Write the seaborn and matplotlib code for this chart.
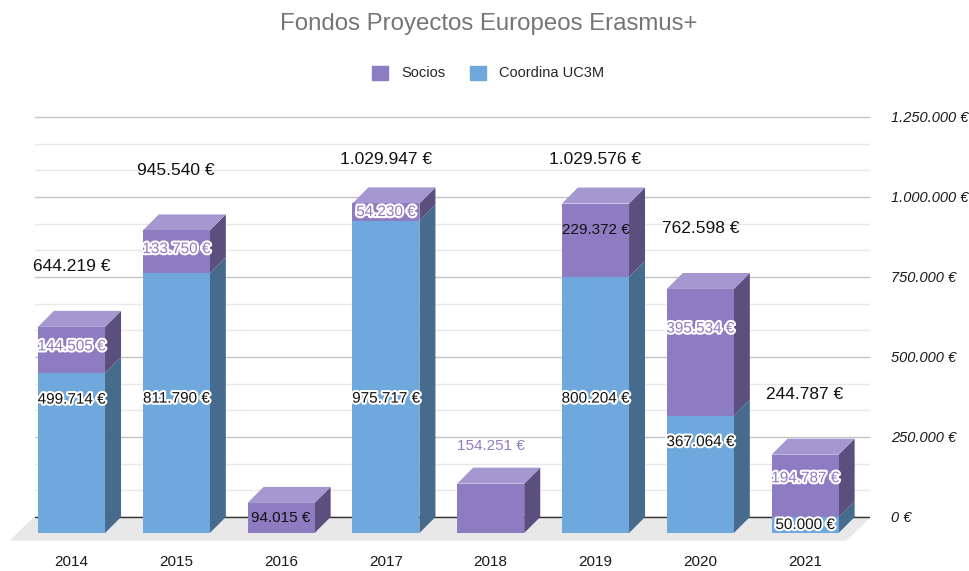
import matplotlib
matplotlib.use('Agg')
import matplotlib.pyplot as plt
import matplotlib.patheffects as pe
from matplotlib.patches import Patch, Polygon
import pandas as pd
import seaborn as sns

years = ['2014', '2015', '2016', '2017', '2018', '2019', '2020', '2021']
coordina = [499714, 811790, 0, 975717, 0, 800204, 367064, 50000]
socios = [144505, 133750, 94015, 54230, 154251, 229372, 395534, 194787]
y_ticks = [0, 250000, 500000, 750000, 1000000, 1250000]
# socios labels drawn plain black (no halo) in the original
plain_socios_labels = ['2019']


def eur(v):
    return f'{v:,.0f} €'.replace(',', '.')


df = pd.DataFrame({'year': years, 'coordina': coordina, 'socios': socios})
df['total'] = df['coordina'] + df['socios']

sns.set_theme(style='white')
plt.rcParams['font.family'] = ['Liberation Sans', 'DejaVu Sans']

purple, purple_top, purple_side = '#8e7cc3', '#a597cf', '#5b4f7e'
blue, blue_side = '#6fa8dc', '#466b8c'

W, H = 969, 571
fig = plt.figure(figsize=(W / 100, H / 100), dpi=100, facecolor='white')
# plot area in pixels: x 35..870, y 100..540 (front bar bottom at 533)
ax = fig.add_axes([35 / W, 1 - 540 / H, (870 - 35) / W, (540 - 100) / H])

px_per_cat = 104.8
eur_per_px = 3125
dx = 16 / px_per_cat          # 3d depth, category units
dy = 16 * eur_per_px          # 3d depth, euro units

sns.barplot(data=df, x='year', y='total', color=purple, saturation=1,
            width=0.64, linewidth=0, ax=ax, zorder=3)
sns.barplot(data=df, x='year', y='coordina', color=blue, saturation=1,
            width=0.64, linewidth=0, ax=ax, zorder=3)

xl, xr = (35 - 71.5) / px_per_cat, (870 - 71.5) / px_per_cat
ylo, yhi = -(540 - 533) * eur_per_px, (533 - 100) * eur_per_px
ax.set_xlim(xl, xr)
ax.set_ylim(ylo, yhi)

# floor and back baseline
fdx = 24 / px_per_cat
ax.add_patch(Polygon([(xl, dy), (xr, dy), (xr - fdx, ylo), (xl - fdx, ylo)],
                     color='#e8e8e8', zorder=1, clip_on=False))
ax.axhline(dy, color='#333333', lw=1, zorder=1.5)

# side and top faces, labels
bars = ax.patches[:len(years)]
halo = [pe.withStroke(linewidth=3, foreground='white')]
for i, p in enumerate(bars):
    x0 = p.get_x()
    x1 = x0 + p.get_width()
    xc = x0 + p.get_width() / 2
    c, s = coordina[i], socios[i]
    t = c + s
    if c > 0:
        ax.add_patch(Polygon([(x1, 0), (x1 + dx, dy), (x1 + dx, c + dy), (x1, c)],
                             color=blue_side, zorder=2.5, lw=0))
    ax.add_patch(Polygon([(x1, c), (x1 + dx, c + dy), (x1 + dx, t + dy), (x1, t)],
                         color=purple_side, zorder=2.5, lw=0))
    ax.add_patch(Polygon([(x0, t), (x1, t), (x1 + dx, t + dy), (x0 + dx, t + dy)],
                         color=purple_top, zorder=2.5, lw=0))

    if c > 0:
        ty = min(t + dy + 44 * eur_per_px, (533 - 160) * eur_per_px)
        ax.text(xc, ty, eur(t), ha='center', va='center', fontsize=12.5,
                color='#111111', zorder=5)
        cy = c / 2 if c < 166000 else min(c - 83000, 420000)
        ax.text(xc, cy, eur(c), ha='center', va='center', fontsize=11,
                color='#111111', path_effects=halo, zorder=5)
        sy = t - min(0.25 * s + 8 * eur_per_px, s / 2)
        if years[i] in plain_socios_labels:
            ax.text(xc, sy, eur(s), ha='center', va='center', fontsize=11,
                    color='#111111', zorder=5)
        else:
            ax.text(xc, sy, eur(s), ha='center', va='center', fontsize=11,
                    color=purple, path_effects=halo, zorder=5)
    elif t < 100000:
        ax.text(xc, t / 2, eur(t), ha='center', va='center', fontsize=11,
                color='#111111', zorder=5)
    else:
        ax.text(xc, t + dy + 22 * eur_per_px, eur(t), ha='center', va='center',
                fontsize=11, color=purple, zorder=5)

# gridlines on the back wall
ax.set_yticks([v + dy for v in y_ticks])
ax.set_yticklabels([eur(v) for v in y_ticks], fontstyle='italic')
ax.set_yticks([k * 250000 / 3 + dy for k in range(16) if k % 3], minor=True)
ax.yaxis.tick_right()
ax.grid(axis='y', which='major', color='#c4c4c4', lw=1, zorder=0)
ax.grid(axis='y', which='minor', color='#e8e8e8', lw=1, zorder=0)
ax.set_axisbelow(True)
ax.tick_params(axis='y', which='both', length=0, pad=15, labelsize=10.5,
               labelcolor='#1a1a1a')
ax.tick_params(axis='x', length=0, pad=11, labelsize=11, labelcolor='#1a1a1a')
ax.set_xlabel('')
ax.set_ylabel('')
sns.despine(ax=ax, left=True, bottom=True, right=True, top=True)

fig.text(489 / W, 1 - 24 / H, 'Fondos Proyectos Europeos Erasmus+', ha='center',
         va='center', fontsize=17.3, color='#757575')
fig.legend(handles=[Patch(color=purple, label='Socios'),
                    Patch(color=blue, label='Coordina UC3M')],
           loc='center', bbox_to_anchor=(488 / W, 1 - 73 / H), ncol=2,
           frameon=False, fontsize=10.5, handlelength=1.1, handleheight=1.1,
           columnspacing=1.7, handletextpad=0.9)

fig.savefig('out.png', dpi=100, facecolor='white')
